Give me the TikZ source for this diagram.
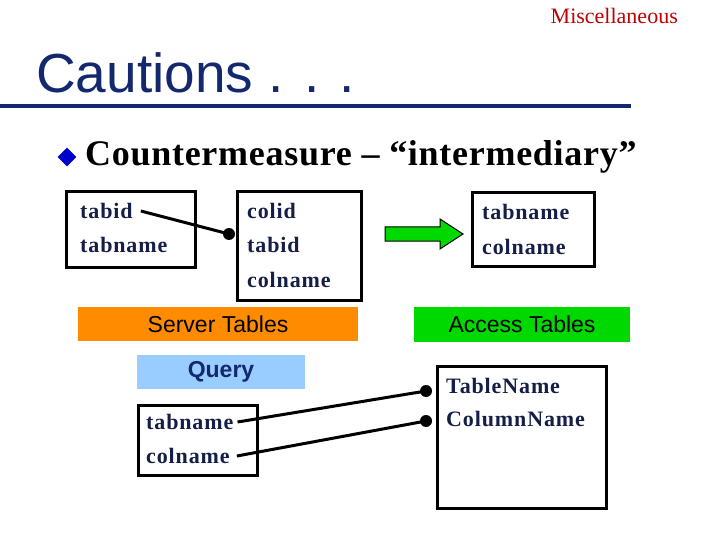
\documentclass[tikz,border=0pt]{standalone}
\usetikzlibrary{shapes.geometric}
\usepackage{fontspec}
\setmainfont{Liberation Serif}
\newfontfamily\arialf{Liberation Sans}
\begin{document}
\begin{tikzpicture}[x=1pt,y=-1pt,
  box/.style={draw=black,line width=3pt},
  txt/.style={anchor=west,inner sep=0pt,font=\fontsize{22}{22}\selectfont\bfseries\addfontfeature{LetterSpace=4},text=navy},
  bar/.style={inner sep=0pt,font=\arialf\fontsize{23}{23}\selectfont},
  conn/.style={line width=3pt},
  dot/.style={circle,fill=black,inner sep=0pt,minimum size=12pt}]
\definecolor{navy}{RGB}{20,30,70}
\definecolor{titleblue}{RGB}{20,40,110}
\useasboundingbox (0,0) rectangle (720,540);
\node[anchor=north east,inner sep=0pt,text=red!75!black,font=\fontsize{22}{22}\selectfont] (misc) at (678,8) {Miscellaneous};
\node[anchor=base west,inner sep=0pt,text=titleblue,font=\arialf\fontsize{55}{55}\selectfont] (title) at (36,93) {Cautions . . .};
\draw[line width=4pt,titleblue] (0,106) -- (631,106);
\node[diamond,fill=blue!80!black,inner sep=0pt,minimum size=19pt,aspect=1] (bul) at (67,157) {};
\node[anchor=west,inner sep=0pt,font=\fontsize{36}{36}\selectfont\bfseries\addfontfeature{LetterSpace=2}] (cm) at (85,157) {Countermeasure – “intermediary”};
% boxes
\draw[box] (66,192) rectangle (195,267);
\node[txt] (t1) at (80,211) {tabid};
\node[txt] (t2) at (80,245) {tabname};
\draw[box] (237,192) rectangle (361,300);
\node[txt] (c1) at (247,211) {colid};
\node[txt] (c2) at (247,245) {tabid};
\node[txt] (c3) at (247,280) {colname};
\draw[box] (472,193) rectangle (594,266);
\node[txt] (n1) at (482,212) {tabname};
\node[txt] (n2) at (482,247) {colname};
\node[dot] (d0) at (229,234) {};
\draw[conn] ([xshift=8pt]t1.east) -- (d0.center);
\draw[fill=green!85!black,draw=black,line width=1pt] (385,227) -- (440,227) -- (440,219) -- (463,234) -- (440,249) -- (440,241) -- (385,241) -- cycle;
% bars
\node[bar,fill=orange!90!yellow,minimum width=280pt,minimum height=34pt] (srv) at (218,324) {Server Tables};
\node[bar,fill=green!85!black,minimum width=216pt,minimum height=35pt] (acc) at (522,324) {Access Tables};
\node[bar,fill={rgb,255:red,153;green,204;blue,255},minimum width=168pt,minimum height=34pt,text=titleblue,font=\arialf\fontsize{23}{23}\selectfont\bfseries] (q) at (221,372) {Query};
% bottom boxes
\draw[box] (138,405) rectangle (257,475);
\node[txt] (b1) at (146,422) {tabname};
\node[txt] (b2) at (146,456) {colname};
\draw[box] (437,366) rectangle (606,508);
\node[txt] (r1) at (446,386) {TableName};
\node[txt] (r2) at (446,419) {ColumnName};
\node[dot] (d1) at (426,391) {};
\node[dot] (d2) at (426,421) {};
\draw[conn] ([xshift=4pt]b1.east) -- (d1.center);
\draw[conn] ([xshift=7pt]b2.east) -- (d2.center);
\end{tikzpicture}
\end{document}
